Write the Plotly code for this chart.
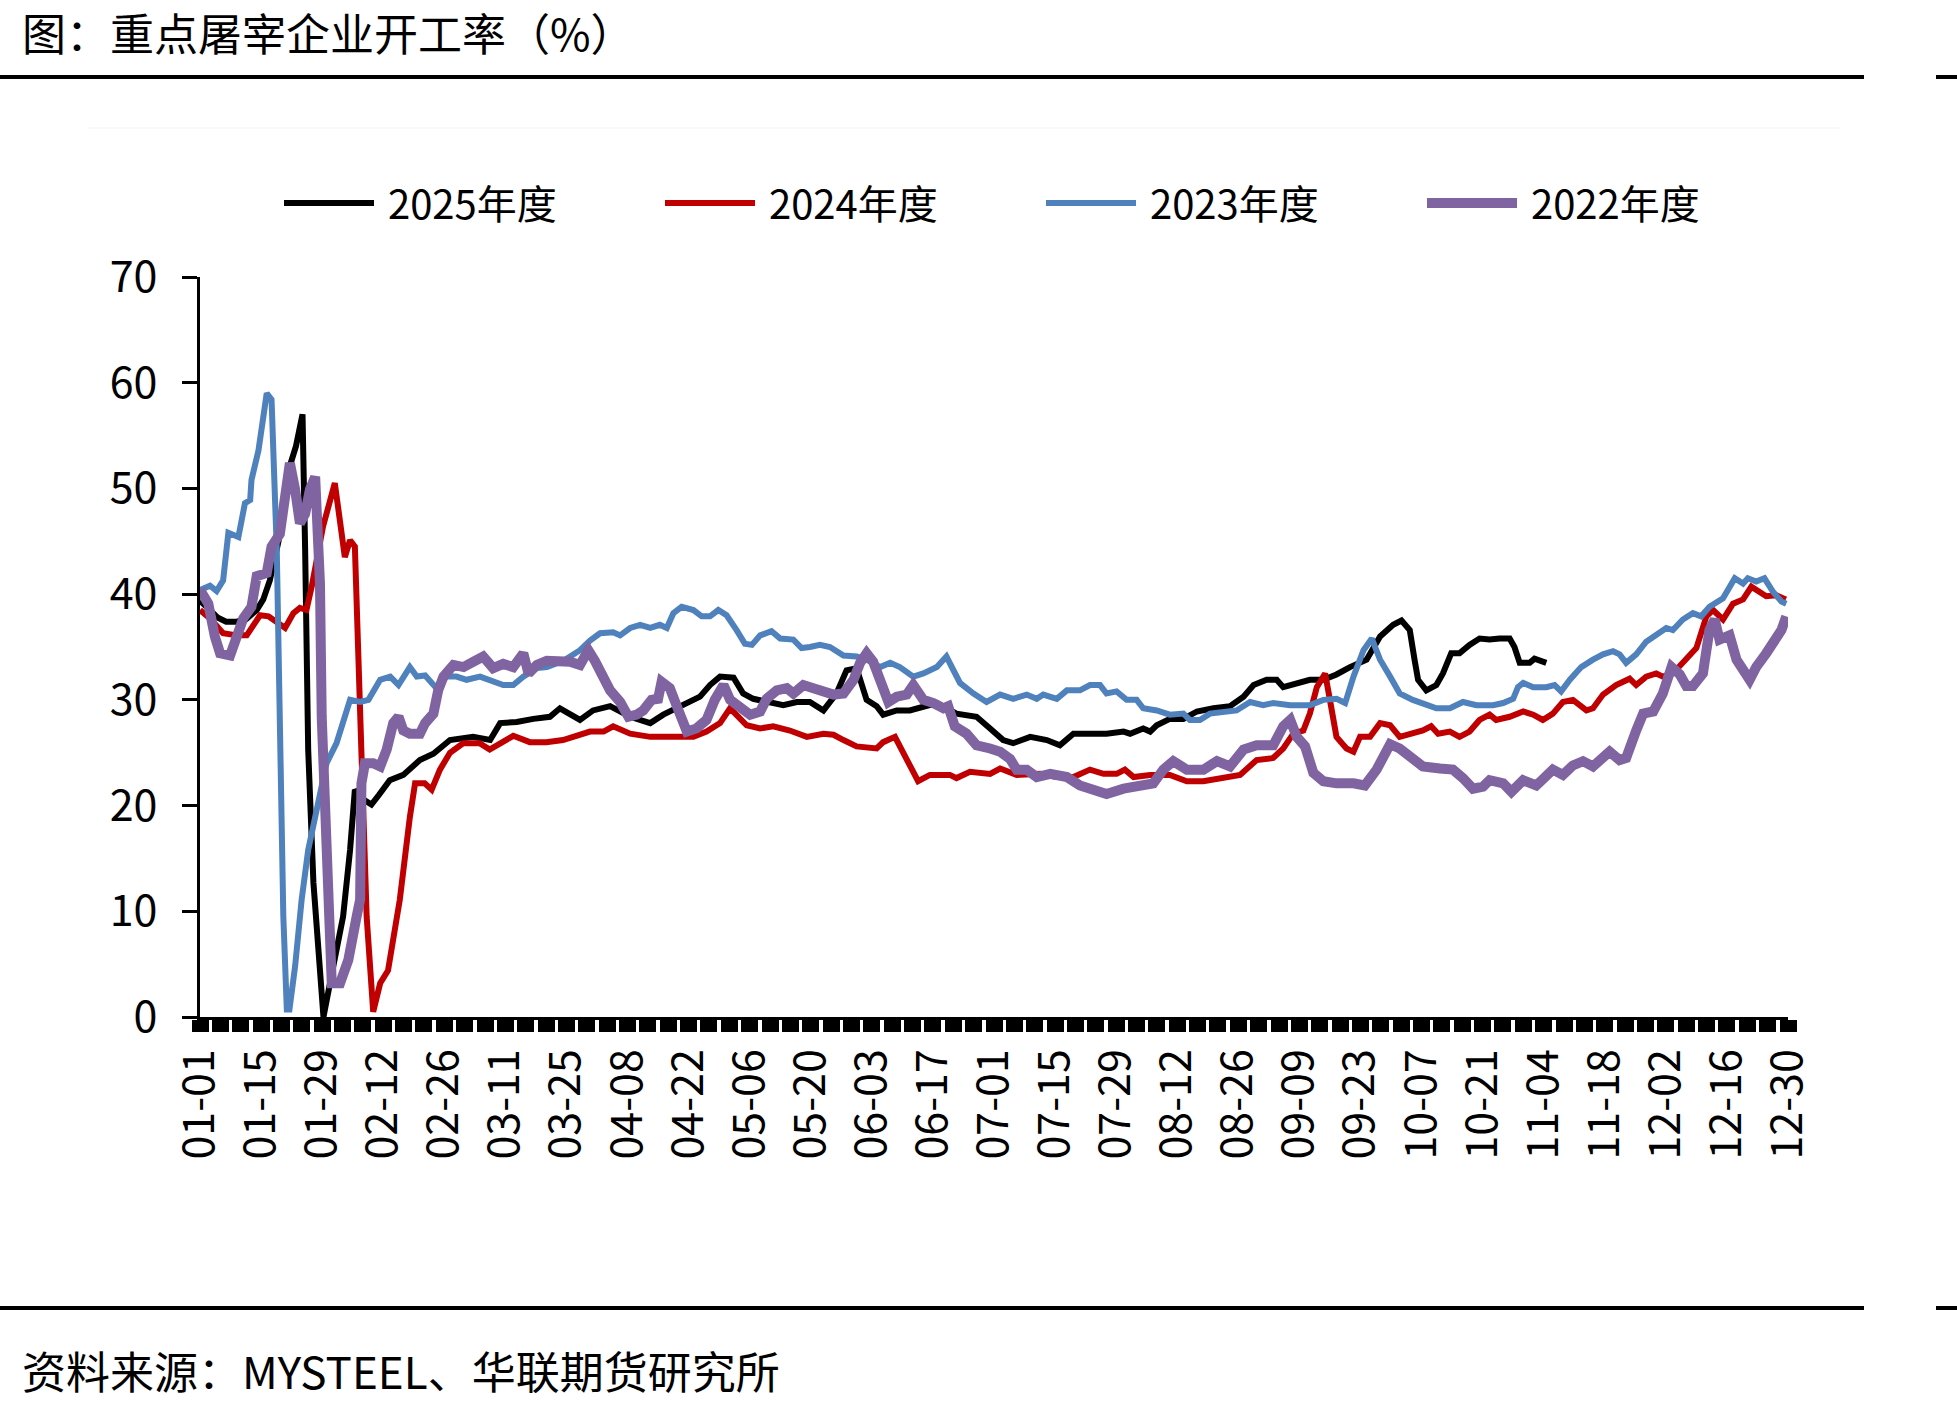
import plotly.graph_objects as go

# ---------------- data (day offset from 01-01, value %) ----------------
x_labels = ["01-01", "01-15", "01-29", "02-12", "02-26", "03-11", "03-25", "04-08",
            "04-22", "05-06", "05-20", "06-03", "06-17", "07-01", "07-15", "07-29",
            "08-12", "08-26", "09-09", "09-23", "10-07", "10-21", "11-04", "11-18",
            "12-02", "12-16", "12-30"]
y_ticks = [0, 10, 20, 30, 40, 50, 60, 70]

s2025 = [(0, 39.4), (2, 38.5), (4, 37.8), (6, 37.4), (8.4, 37.4), (10.5, 37.6), (13, 38.5),
         (14.5, 39.5), (16, 41.3), (18, 45.0), (20.5, 52.0), (22, 54.0), (23.5, 57.0),
         (24.1, 44.2), (24.8, 25.3), (26, 12.7), (27.5, 3.2), (28.3, 0.0), (30.5, 4.7),
         (32.8, 9.5), (34.4, 15.8), (35.5, 21.5), (37, 20.7), (39.3, 20.1), (41, 21.0),
         (43.5, 22.4), (46.6, 22.9), (50.4, 24.3), (53.5, 24.9), (57.3, 26.2), (62.6, 26.5),
         (66.5, 26.2), (68.8, 27.8), (72.6, 27.9), (76.4, 28.2), (80.2, 28.4), (82.5, 29.2),
         (87.1, 28.1), (90.1, 29.0), (94, 29.4), (98.6, 28.4), (103.2, 27.8), (106.2, 28.6),
         (110.8, 29.5), (114.6, 30.3), (116.9, 31.4), (119.2, 32.2), (122.3, 32.1),
         (124.5, 30.6), (126.8, 30.1), (130.7, 29.8), (133.7, 29.5), (136.8, 29.8),
         (139.8, 29.8), (142.9, 29.0), (145.9, 30.6), (148.2, 32.8), (150.5, 33.0),
         (152.8, 30.0), (155.1, 29.4), (156.6, 28.6), (159.7, 29.0), (162.7, 29.0),
         (165.8, 29.4), (168.9, 29.7), (173.4, 28.7), (178, 28.4), (181.1, 27.3),
         (184.1, 26.2), (186.4, 25.9), (190.3, 26.5), (194.1, 26.2), (197.1, 25.7),
         (200.2, 26.8), (203.3, 26.8), (207.8, 26.8), (211.7, 27.0), (213.2, 26.8),
         (216.2, 27.3), (217.8, 27.0), (219.3, 27.6), (222.3, 28.2), (225.4, 28.2),
         (228.5, 28.9), (232.3, 29.2), (236.1, 29.4), (239.2, 30.3), (241.5, 31.4),
         (244.5, 31.9), (246.8, 31.9), (248.3, 31.2), (251.4, 31.6), (254.4, 31.9),
         (257.5, 31.9), (260.5, 32.4), (263.6, 33.1), (267.4, 33.8), (270.5, 36.0),
         (273.5, 37.1), (275.4, 37.5), (277.3, 36.6), (278.4, 33.8), (279.2, 31.9),
         (281.1, 30.9), (283.4, 31.4), (284.9, 32.5), (286.8, 34.4), (288.7, 34.4),
         (291, 35.2), (293.3, 35.8), (295.6, 35.7), (297.9, 35.8), (300.2, 35.8),
         (301.3, 35.0), (302.5, 33.5), (304.8, 33.5), (305.9, 33.9), (308.6, 33.5)]

s2024 = [(0, 38.5), (2.3, 37.7), (5.3, 36.3), (8.4, 36.1), (10.7, 36.1), (13.75, 38.0),
         (15.7, 37.9), (17.6, 37.4), (19.5, 36.8), (21.4, 38.2), (22.9, 38.7), (24.4, 38.5),
         (25.6, 40.7), (28.2, 46.4), (30.9, 50.5), (33.2, 43.5), (34.4, 45.1), (35.5, 44.5),
         (36, 37.9), (37, 22.1), (38.2, 9.5), (39.7, 0.5), (41.3, 3.2), (43.1, 4.4),
         (45.8, 11.1), (48.1, 18.9), (49.3, 22.1), (51.5, 22.1), (53.1, 21.5), (55, 23.4),
         (57.3, 25.0), (60.3, 25.9), (64.1, 25.9), (66.4, 25.3), (68.7, 25.9), (71.8, 26.6),
         (75.6, 26.0), (79.4, 26.0), (83.2, 26.2), (87, 26.7), (89.4, 27.0), (92.5, 27.0),
         (94.7, 27.5), (98.6, 26.8), (103.2, 26.5), (108.5, 26.5), (113.1, 26.5),
         (116.1, 27.0), (119.2, 27.8), (121.5, 29.2), (123, 28.6), (125.3, 27.6),
         (128.4, 27.3), (131.4, 27.5), (135.2, 27.1), (139.1, 26.5), (142.9, 26.8),
         (145.2, 26.7), (147.5, 26.2), (150.5, 25.6), (155.1, 25.4), (156.6, 26.0),
         (159.3, 26.5), (162, 24.3), (164.6, 22.3), (167.3, 22.9), (171.9, 22.9),
         (173.4, 22.6), (176.5, 23.2), (181.1, 23.0), (183.4, 23.5), (187.2, 22.9),
         (192.6, 23.0), (196.4, 22.7), (200.2, 22.7), (204, 23.4), (207.1, 23.0),
         (210.1, 23.0), (212, 23.4), (214, 22.7), (217.8, 22.9), (222.3, 22.9),
         (226.2, 22.3), (230, 22.3), (234.6, 22.6), (238.4, 22.9), (242.2, 24.3),
         (246, 24.5), (248.3, 25.4), (250.6, 26.8), (252.9, 27.1), (254.4, 28.7),
         (256, 31.2), (257.9, 32.5), (259, 30.0), (260.5, 26.5), (262.8, 25.4),
         (264.4, 25.1), (265.9, 26.5), (268.2, 26.5), (270.5, 27.8), (272.8, 27.6),
         (275, 26.5), (277.3, 26.8), (280.3, 27.1), (282.2, 27.5), (283.8, 26.8),
         (286.5, 27.0), (288.7, 26.5), (291, 27.0), (293.3, 28.1), (295.6, 28.6),
         (297.1, 28.1), (300.2, 28.4), (303.3, 28.9), (305.6, 28.6), (307.8, 28.1),
         (310.1, 28.7), (312.4, 29.8), (314.7, 30.0), (317.8, 29.0), (319.3, 29.2),
         (321.6, 30.5), (324.6, 31.4), (327.7, 32.0), (329.2, 31.4), (331.5, 32.2),
         (333.8, 32.5), (335.3, 32.2), (337.6, 32.5), (339.9, 33.6), (343, 34.9),
         (345.3, 37.9), (346.8, 38.5), (349.1, 37.6), (351.4, 39.1), (353.7, 39.5),
         (355.6, 40.7), (357.5, 40.2), (359, 39.8), (361.3, 39.9), (363.5, 39.5)]

s2023 = [(0, 40.4), (2.3, 40.8), (3.8, 40.3), (5.3, 41.3), (6.5, 45.8), (8.8, 45.4),
         (10.3, 48.6), (11.5, 48.9), (11.8, 50.8), (13.4, 53.6), (15.3, 59.0), (16.4, 58.4),
         (17.6, 44.2), (18.3, 25.3), (19.1, 9.5), (19.9, 0.7), (20.5, 0.7), (21.8, 4.8),
         (23.3, 11.1), (24.8, 15.8), (26.7, 19.6), (29, 24.0), (31.3, 25.9), (32.8, 27.8),
         (34.4, 30.0), (36.7, 29.8), (38.6, 30.0), (41.3, 31.9), (43.6, 32.2), (45.5, 31.4),
         (48.1, 33.1), (49.7, 32.2), (51.6, 32.3), (54.2, 31.1), (56.5, 32.2), (58.8, 32.2),
         (61.1, 31.9), (64.2, 32.2), (67.2, 31.7), (69.5, 31.4), (71.8, 31.4), (74.1, 32.2),
         (77.2, 33.0), (79.5, 33.1), (83.3, 33.7), (87.1, 34.7), (89.4, 35.6), (91.7, 36.3),
         (94.7, 36.4), (96.3, 36.1), (98.6, 36.8), (100.9, 37.1), (103.2, 36.8),
         (105.4, 37.1), (107, 36.8), (108.5, 38.2), (110.4, 38.8), (113.1, 38.5),
         (115, 37.9), (116.9, 37.9), (118.8, 38.5), (120.7, 38.0), (123, 36.6),
         (124.9, 35.3), (126.5, 35.2), (128.4, 36.1), (131, 36.5), (133, 35.8), (136, 35.7),
         (137.9, 34.9), (139.8, 35.0), (142.1, 35.2), (144.4, 35.0), (147.5, 34.2),
         (150.5, 34.1), (152.8, 33.8), (155.9, 33.1), (158.2, 33.5), (160.4, 33.1),
         (163.5, 32.2), (165.8, 32.5), (168.9, 33.1), (171.1, 34.1), (174.2, 31.6),
         (177.3, 30.6), (180.3, 29.8), (183.4, 30.5), (186.4, 30.1), (189.5, 30.5),
         (191.8, 30.1), (193.3, 30.5), (196.4, 30.1), (198.7, 30.9), (201.7, 30.9),
         (204, 31.4), (206.3, 31.4), (207.8, 30.6), (210.1, 30.8), (212.4, 30.0),
         (214.7, 30.0), (216.2, 29.2), (219.3, 29.0), (222.3, 28.6), (225.4, 28.7),
         (226.9, 28.1), (229.2, 28.1), (231.5, 28.7), (234.6, 28.9), (237.6, 29.0),
         (240.7, 29.8), (243.7, 29.5), (246, 29.7), (249.9, 29.5), (254.4, 29.5),
         (257.5, 30.0), (260.5, 30.1), (262.5, 29.7), (264.4, 32.2), (266.7, 34.7),
         (268.6, 35.8), (270.5, 33.8), (272.8, 32.2), (275, 30.6), (278, 30.0),
         (281.1, 29.5), (283.4, 29.2), (286.5, 29.2), (289.5, 29.8), (292.6, 29.5),
         (296.4, 29.5), (298.7, 29.7), (301, 30.1), (302.1, 31.2), (303.3, 31.6),
         (305.6, 31.2), (308.6, 31.2), (310.5, 31.4), (312, 30.8), (314, 31.9),
         (316.6, 33.1), (319.3, 33.8), (321.6, 34.3), (323.9, 34.6), (325.4, 34.3),
         (326.9, 33.5), (329.2, 34.3), (331.5, 35.5), (333.8, 36.1), (336.1, 36.8),
         (337.6, 36.6), (339.9, 37.6), (342.2, 38.2), (344.1, 37.9), (346, 38.8),
         (349.1, 39.6), (351.8, 41.5), (353.7, 41.0), (354.8, 41.5), (356.7, 41.2),
         (358.6, 41.5), (360.6, 40.2), (362.5, 39.3), (363.6, 39.1)]

s2022 = [(0, 40.4), (1.9, 39.1), (3.4, 36.0), (4.6, 34.4), (6.9, 34.2), (8, 35.4),
         (9.9, 37.7), (11.8, 38.8), (13, 41.7), (15.3, 42.0), (16.4, 44.5), (18.3, 45.7),
         (19.5, 49.9), (20.6, 52.4), (21.8, 49.9), (22.9, 46.7), (24.1, 47.6), (25.2, 49.9),
         (26.4, 51.1), (27.5, 41.0), (27.9, 28.4), (29, 12.7), (30.2, 3.2), (32.1, 3.2),
         (34, 5.4), (35.9, 9.5), (36.7, 11.1), (37, 22.1), (37.8, 24.0), (39.7, 24.0),
         (41.3, 23.7), (42.8, 25.3), (44.3, 27.8), (45.5, 28.4), (46.6, 27.1), (48.1, 26.8),
         (50.4, 26.8), (51.6, 27.8), (53.5, 28.7), (54.6, 30.9), (55.8, 32.2), (58.1, 33.3),
         (60.4, 33.1), (62.6, 33.6), (64.9, 34.1), (67.2, 33.0), (69.5, 33.4), (71.8, 33.1),
         (74.1, 34.4), (75.3, 32.5), (77.2, 33.3), (79.5, 33.7), (81.8, 33.7), (84.8, 33.6),
         (87.1, 33.3), (89, 34.7), (90.5, 33.7), (92.4, 32.2), (94, 30.9), (96.3, 29.8),
         (98.2, 28.4), (100.1, 28.6), (101.6, 29.0), (103.5, 30.0), (105, 30.1),
         (105.8, 31.7), (107.7, 31.1), (109.3, 29.4), (111.6, 27.0), (113.8, 27.3),
         (116.1, 28.1), (118, 30.0), (120, 31.4), (121.5, 30.0), (123.8, 29.2),
         (126.1, 28.6), (128.4, 28.9), (129.9, 30.1), (132.2, 30.9), (134.5, 31.1),
         (136, 30.6), (138.3, 31.4), (140.6, 31.1), (142.9, 30.9), (145.2, 30.5),
         (147.5, 30.6), (149.8, 31.9), (151.3, 33.5), (152.8, 34.4), (154.3, 33.6),
         (155.9, 31.6), (157.8, 29.8), (159.7, 30.3), (162, 30.5), (163.5, 31.4),
         (165.8, 30.0), (168.1, 29.7), (170.4, 29.2), (171.5, 29.4), (173, 27.5),
         (175.7, 26.8), (178, 25.7), (181.1, 25.4), (183.4, 25.1), (185.7, 24.4),
         (187.2, 23.4), (189.5, 23.4), (191.8, 22.7), (194.9, 23.0), (198.7, 22.7),
         (201.7, 21.9), (204.8, 21.5), (207.8, 21.1), (211.7, 21.6), (214.7, 21.8),
         (218.5, 22.1), (220.8, 23.4), (223.1, 24.2), (226.2, 23.4), (230, 23.4),
         (233.1, 24.2), (236.1, 23.7), (239.2, 25.3), (242.2, 25.7), (246, 25.7),
         (248.3, 27.5), (249.9, 28.1), (251.4, 26.5), (253.3, 25.6), (255.2, 23.1),
         (257.5, 22.3), (260.5, 22.1), (264.4, 22.1), (267, 21.9), (269.7, 23.4),
         (272.8, 25.8), (275, 25.4), (278, 24.3), (280.3, 23.7), (284.2, 23.5),
         (287.2, 23.4), (289.5, 22.6), (291.8, 21.6), (294.1, 21.8), (295.6, 22.4),
         (298.7, 22.1), (300.6, 21.3), (303.3, 22.4), (306.3, 21.9), (310.1, 23.4),
         (312.4, 22.9), (314.7, 23.8), (317, 24.2), (319.3, 23.7), (323.1, 25.1),
         (325.4, 24.3), (326.9, 24.5), (329.2, 27.1), (330.8, 28.7), (333.1, 28.9),
         (335.3, 30.6), (337.3, 33.1), (339.2, 32.4), (340.7, 31.3), (342.2, 31.3),
         (344.5, 32.5), (346, 36.6), (347.2, 37.6), (348.3, 35.7), (350.6, 36.1),
         (352.2, 33.8), (355.2, 31.9), (356.7, 33.1), (359, 34.4), (361.3, 35.7),
         (362.5, 36.6), (363.6, 37.9)]

series_names = ["2025年度", "2024年度", "2023年度", "2022年度"]
series_data = [s2025, s2024, s2023, s2022]
series_colors = ["#000000", "#C00000", "#4F81BD", "#8064A2"]
series_widths = [6, 6, 6, 10]

# ---------------- layout constants (pixels) ----------------
W, H = 1957, 1407
PL, PR, PT, PB = 200, 1788, 277, 1017
FONT = "Noto Sans CJK SC"


def fx(x):
    return (x - PL) / (PR - PL)


def fy(y):
    return (PB - y) / (PB - PT)


fig = go.Figure()
for name, data, color, width in zip(series_names, series_data, series_colors, series_widths):
    fig.add_trace(go.Scatter(
        x=[d for d, v in data], y=[v for d, v in data], name=" " + name, mode="lines",
        line=dict(color=color, width=width), hoverinfo="x+y+name"))

tick_days = [14 * i for i in range(len(x_labels))]

fig.update_layout(
    width=W, height=H,
    margin=dict(l=PL, r=W - PR, t=PT, b=H - PB, pad=0),
    paper_bgcolor="white", plot_bgcolor="white",
    font=dict(family=FONT, color="black", size=40),
    showlegend=True,
    legend=dict(orientation="h", x=fx(279), y=fy(203), xanchor="left", yanchor="middle",
                font=dict(size=40, family=FONT, color="black"),
                itemwidth=90, entrywidth=276, entrywidthmode="pixels",
                bgcolor="rgba(0,0,0,0)", borderwidth=0, traceorder="normal",
                itemclick=False),
    xaxis=dict(range=[0, 364], tickmode="array", tickvals=tick_days, ticktext=x_labels,
               tickangle=-90, ticks="outside", ticklen=12, tickwidth=17, tickcolor="black",
               showline=True, linewidth=3, linecolor="black", showgrid=False, zeroline=False,
               tickfont=dict(size=43, family=FONT, color="black"),
               minor=dict(tickmode="linear", tick0=0, dtick=14 / 3, ticks="outside",
                          ticklen=12, tickwidth=17, tickcolor="black", showgrid=False)),
    yaxis=dict(range=[0, 70], tickmode="array", tickvals=y_ticks, ticks="outside",
               ticklen=15, tickwidth=3, tickcolor="black", showline=True, linewidth=3,
               linecolor="black", showgrid=False, zeroline=False, ticklabelstandoff=16,
               tickfont=dict(size=43, family=FONT, color="black")),
)

# title & footer
fig.add_annotation(text="图：重点屠宰企业开工率（%）", xref="paper", yref="paper",
                   x=fx(20), y=fy(32), xanchor="left", yanchor="middle", showarrow=False,
                   font=dict(size=44, family=FONT, color="black"))
fig.add_annotation(text="资料来源：MYSTEEL、华联期货研究所", xref="paper", yref="paper",
                   x=fx(20), y=fy(1370), xanchor="left", yanchor="middle", showarrow=False,
                   font=dict(size=44, family=FONT, color="black"))

# separator rules
for yy in (77, 1308):
    fig.add_shape(type="line", xref="paper", yref="paper", x0=fx(0), x1=fx(1864),
                  y0=fy(yy), y1=fy(yy), line=dict(color="black", width=4))
    fig.add_shape(type="line", xref="paper", yref="paper", x0=fx(1936), x1=fx(1957),
                  y0=fy(yy), y1=fy(yy), line=dict(color="black", width=4))
# faint chart-area top border
fig.add_shape(type="line", xref="paper", yref="paper", x0=fx(87), x1=fx(1841),
              y0=fy(128), y1=fy(128), line=dict(color="#f3f3f3", width=1))

fig.write_html("out.html")
